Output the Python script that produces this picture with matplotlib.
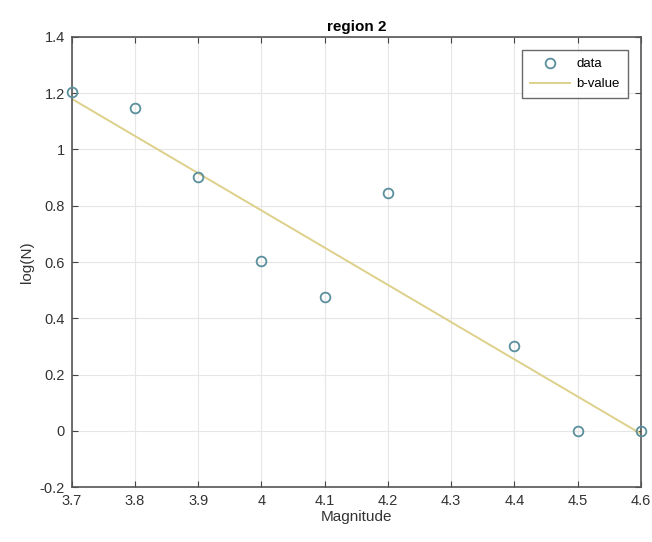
import matplotlib
matplotlib.use('Agg')
import matplotlib.pyplot as plt

# magnitude-frequency data
magnitude = [3.7, 3.8, 3.9, 4.0, 4.1, 4.2, 4.4, 4.5, 4.6]
log_n = [1.204, 1.146, 0.903, 0.602, 0.477, 0.845, 0.301, 0.0, 0.0]

# fitted b-value line (end points)
fit_mag = [3.7, 4.6]
fit_log_n = [1.18, -0.01]

plt.rcParams['font.family'] = ['Liberation Sans', 'DejaVu Sans']

fig = plt.figure(figsize=(6.52, 5.42), dpi=100)
ax = fig.add_axes([0.110, 0.101, 0.873, 0.831])

ax.plot(magnitude, log_n, 'o', mfc='none', mec='#5a8f9c', mew=1.3, ms=7,
        label='data', zorder=3, clip_on=False)
ax.plot(fit_mag, fit_log_n, '-', color='#ddd08a', lw=1.4, label='b-value', zorder=2)

ax.set_xlim(3.7, 4.6)
ax.set_ylim(-0.2, 1.4)
ax.set_xticks([3.7, 3.8, 3.9, 4.0, 4.1, 4.2, 4.3, 4.4, 4.5, 4.6])
ax.set_xticklabels(['3.7', '3.8', '3.9', '4', '4.1', '4.2', '4.3', '4.4', '4.5', '4.6'])
ax.set_yticks([-0.2, 0, 0.2, 0.4, 0.6, 0.8, 1.0, 1.2, 1.4])
ax.set_yticklabels(['-0.2', '0', '0.2', '0.4', '0.6', '0.8', '1', '1.2', '1.4'])

ax.grid(True, color='#e6e6e6', lw=0.8)
ax.set_axisbelow(True)
ax.tick_params(direction='in', length=4, color='#444444', labelsize=10.5,
               labelcolor='#333333', top=True, right=True, pad=5)
for s in ax.spines.values():
    s.set_color('#555555')
    s.set_linewidth(1.2)

ax.set_xlabel('Magnitude', fontsize=11, color='#333333', labelpad=1)
ax.set_ylabel('log(N)', fontsize=11, color='#333333')
ax.set_title('region 2', fontsize=11, fontweight='bold', pad=4)

leg = ax.legend(loc='upper right', fontsize=9.5, frameon=True, fancybox=False,
                edgecolor='#444444', borderaxespad=1.0, handlelength=3.0,
                handletextpad=0.5, labelspacing=0.6, borderpad=0.6)
leg.get_frame().set_linewidth(1.0)

fig.savefig('out.png', dpi=100)
